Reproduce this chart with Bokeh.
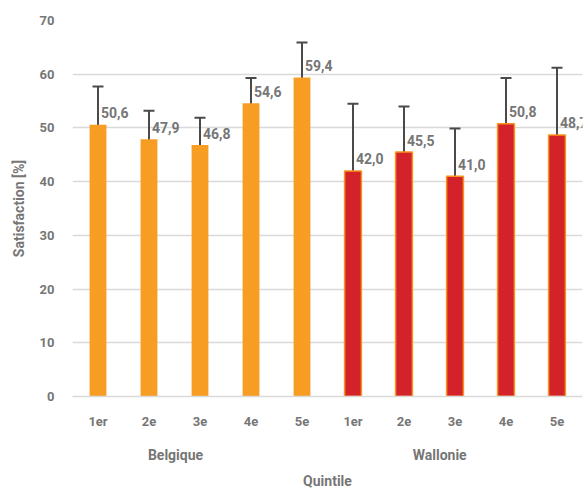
from bokeh.plotting import figure
from bokeh.models import ColumnDataSource, Whisker, LinearAxis, FixedTicker, Range1d, TeeHead
from bokeh.core.properties import value
from bokeh.embed import file_html
from bokeh.resources import INLINE

quintiles = ["1er", "2e", "3e", "4e", "5e"]
regions = ["Belgique", "Wallonie"]
belgique = [50.6, 47.9, 46.8, 54.6, 59.4]
wallonie = [42.0, 45.5, 41.0, 50.8, 48.7]
belgique_low = [43.3, 42.4, 41.6, 49.8, 52.8]
belgique_high = [57.7, 53.2, 51.9, 59.3, 65.9]
wallonie_low = [29.3, 36.7, 31.9, 42.2, 36.1]
wallonie_high = [54.5, 54.0, 49.9, 59.3, 61.2]
y_ticks = [0, 10, 20, 30, 40, 50, 60, 70]

FONT = "Roboto"
TXT = "#767676"
ORANGE = "#F79D24"
RED = "#D3222A"
ERR = "#4A4A4A"

n = len(quintiles)
xb = [i + 0.5 for i in range(n)]
xw = [n + i + 0.5 for i in range(n)]

def fmt(v):
    return f"{v:.1f}".replace(".", ",")

src_b = ColumnDataSource(dict(x=xb, top=belgique, low=belgique_low, high=belgique_high,
                              lab=[fmt(v) for v in belgique]))
src_w = ColumnDataSource(dict(x=xw, top=wallonie, low=wallonie_low, high=wallonie_high,
                              lab=[fmt(v) for v in wallonie]))

p = figure(frame_width=510, frame_height=376, output_backend="svg", toolbar_location=None,
           x_range=Range1d(0, 2 * n), y_range=Range1d(0, 70),
           min_border_left=72, min_border_top=20, min_border_right=6, min_border_bottom=0,
           x_axis_location=None)
p.outline_line_color = None
p.xgrid.visible = False
p.ygrid.ticker = FixedTicker(ticks=y_ticks)
p.ygrid.grid_line_color = "#D9D9D9"
p.ygrid.grid_line_width = 1.5

p.vbar(x="x", top="top", width=0.33, source=src_b, fill_color=ORANGE, line_color=None)
p.vbar(x="x", top="top", width=0.33, source=src_w, fill_color=RED, line_color="#F7941D", line_width=1.5)

for s in (src_b, src_w):
    w = Whisker(source=s, base="x", lower="low", upper="high", line_color=ERR, line_width=2,
                upper_head=TeeHead(size=11, line_color=ERR, line_width=2),
                lower_head=TeeHead(size=11, line_color=ERR, line_width=2))
    p.add_layout(w)
    p.text(x="x", y="top", text="lab", source=s, x_offset=3, y_offset=-12,
           text_font=value(FONT), text_font_style="bold", text_font_size="14px",
           text_color=TXT, text_baseline="middle", text_align="left")

# y axis
ya = p.yaxis[0]
ya.ticker = FixedTicker(ticks=y_ticks)
ya.axis_line_color = None
ya.major_tick_line_color = None
ya.minor_tick_line_color = None
ya.major_tick_out = 0
ya.major_label_text_font = FONT
ya.major_label_text_font_style = "bold"
ya.major_label_text_font_size = "13px"
ya.major_label_text_color = TXT
ya.major_label_standoff = 18
ya.axis_label = "Satisfaction [%]"
ya.axis_label_text_font = FONT
ya.axis_label_text_font_style = "bold"
ya.axis_label_text_font_size = "14px"
ya.axis_label_text_color = TXT
ya.axis_label_standoff = 10

# quintile axis
xa = LinearAxis(ticker=FixedTicker(ticks=xb + xw),
                major_label_overrides={x: q for x, q in zip(xb + xw, quintiles * 2)})
xa.axis_line_color = "#D9D9D9"
xa.axis_line_width = 1.5
xa.major_tick_line_color = None
xa.minor_tick_line_color = None
xa.major_tick_out = 0
xa.major_label_text_font = FONT
xa.major_label_text_font_style = "bold"
xa.major_label_text_font_size = "13px"
xa.major_label_text_color = TXT
xa.major_label_standoff = 17
p.add_layout(xa, "below")

# region axis
group_pos = [2.02, 7.2]
ga = LinearAxis(ticker=FixedTicker(ticks=group_pos),
                major_label_overrides={x: r for x, r in zip(group_pos, regions)})
ga.axis_line_color = None
ga.major_tick_line_color = None
ga.minor_tick_line_color = None
ga.major_tick_out = 0
ga.major_label_text_font = FONT
ga.major_label_text_font_style = "bold"
ga.major_label_text_font_size = "14px"
ga.major_label_text_color = TXT
ga.major_label_standoff = 15
ga.axis_label = "Quintile"
ga.axis_label_text_font = FONT
ga.axis_label_text_font_style = "bold"
ga.axis_label_text_font_size = "14px"
ga.axis_label_text_color = TXT
ga.axis_label_standoff = 7
p.add_layout(ga, "below")

open("out.html", "w").write(file_html(p, INLINE))
